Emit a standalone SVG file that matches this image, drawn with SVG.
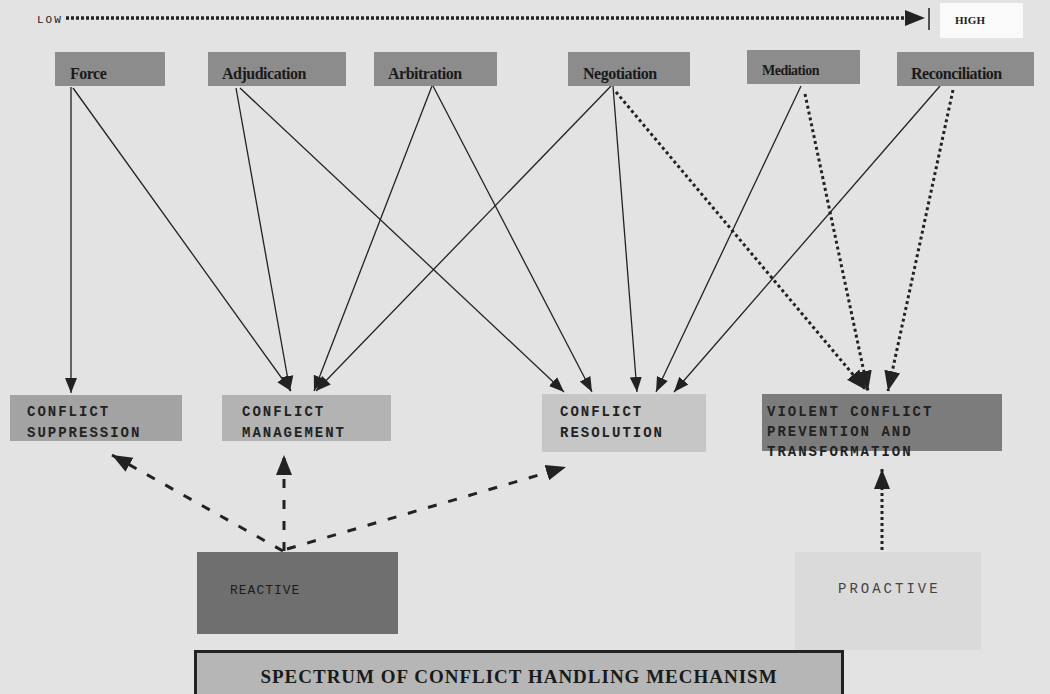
<svg xmlns="http://www.w3.org/2000/svg" width="1050" height="694" viewBox="0 0 1050 694">
<style>
.top{fill:#8c8c8c;}
.tl{font-family:"Liberation Serif",serif;font-weight:bold;font-size:16px;fill:#1a1a1a;letter-spacing:-0.5px;}
.bl{font-family:"Liberation Mono",monospace;font-weight:bold;font-size:14px;fill:#222;letter-spacing:2px;}
.solid{stroke:#222;stroke-width:1.3;fill:none;marker-end:url(#ah);}
.dot{stroke:#222;stroke-width:3;stroke-dasharray:3,3;fill:none;marker-end:url(#ahb);}
.dash{stroke:#222;stroke-width:3;stroke-dasharray:9,12;fill:none;marker-end:url(#ahb);}
</style>
<defs>
<marker id="ah" markerUnits="userSpaceOnUse" markerWidth="16" markerHeight="16" viewBox="0 0 16 16" refX="15" refY="8" orient="auto"><path d="M0,2 L15,8 L0,14 Z" fill="#222"/></marker>
<marker id="ahb" markerUnits="userSpaceOnUse" markerWidth="22" markerHeight="22" viewBox="0 0 22 22" refX="20" refY="11" orient="auto"><path d="M0,3 L20,11 L0,19 Z" fill="#222"/></marker>
</defs>
<rect width="1050" height="694" fill="#e3e3e3"/>
<g id="scale">
<text x="37" y="23" font-family="Liberation Mono,monospace" font-size="11" fill="#222" letter-spacing="2">LOW</text>
<line x1="66" y1="18" x2="906" y2="18" stroke="#222" stroke-width="3.5" stroke-dasharray="3,2"/>
<path d="M905,10 L925,18 L905,26 Z" fill="#222"/>
<line x1="929" y1="8" x2="929" y2="30" stroke="#222" stroke-width="1.5"/>
<rect x="940" y="3" width="83" height="35" fill="#fafafa"/>
<text x="955" y="24" font-family="Liberation Serif,serif" font-weight="bold" font-size="11" fill="#222">HIGH</text>
</g>
<g id="connectors">
<line class="solid" x1="71" y1="87" x2="71" y2="393"/>
<line class="solid" x1="73" y1="88" x2="291" y2="391"/>
<line class="solid" x1="236" y1="88" x2="290" y2="391"/>
<line class="solid" x1="240" y1="88" x2="564" y2="392"/>
<line class="solid" x1="432" y1="86" x2="314" y2="391"/>
<line class="solid" x1="433" y1="86" x2="592" y2="392"/>
<line class="solid" x1="611" y1="86" x2="316" y2="391"/>
<line class="solid" x1="613" y1="86" x2="637" y2="392"/>
<line class="solid" x1="801" y1="86" x2="656" y2="392"/>
<line class="solid" x1="940" y1="86" x2="674" y2="392"/>
<line class="dot" x1="616" y1="92" x2="866" y2="390"/>
<line class="dot" x1="805" y1="94" x2="868" y2="391"/>
<line class="dot" x1="953" y1="90" x2="888" y2="391"/>
<line class="dash" x1="283" y1="551" x2="112" y2="455"/>
<line class="dash" x1="284" y1="551" x2="284" y2="455"/>
<line class="dash" x1="287" y1="549" x2="566" y2="467"/>
<line class="dot" x1="882" y1="550" x2="882" y2="469"/>
</g>
<g id="force"><rect class="top" x="55" y="52" width="110" height="34"/><text class="tl" x="70" y="79">Force</text></g>
<g id="adjudication"><rect class="top" x="208" y="52" width="138" height="34"/><text class="tl" x="222" y="79">Adjudication</text></g>
<g id="arbitration"><rect class="top" x="374" y="52" width="123" height="34"/><text class="tl" x="388" y="79">Arbitration</text></g>
<g id="negotiation"><rect class="top" x="568" y="52" width="122" height="34"/><text class="tl" x="583" y="79">Negotiation</text></g>
<g id="mediation"><rect class="top" x="747" y="50" width="113" height="34"/><text class="tl" x="762" y="75" style="font-size:14px">Mediation</text></g>
<g id="reconciliation"><rect class="top" x="897" y="52" width="137" height="34"/><text class="tl" x="911" y="79">Reconciliation</text></g>
<g id="suppression"><rect x="10" y="395" width="172" height="46" fill="#a3a3a3"/><text class="bl" x="27" y="416">CONFLICT</text><text class="bl" x="27" y="437">SUPPRESSION</text></g>
<g id="management"><rect x="222" y="395" width="169" height="46" fill="#b3b3b3"/><text class="bl" x="242" y="416">CONFLICT</text><text class="bl" x="242" y="437">MANAGEMENT</text></g>
<g id="resolution"><rect x="542" y="394" width="164" height="58" fill="#c6c6c6"/><text class="bl" x="560" y="416">CONFLICT</text><text class="bl" x="560" y="437">RESOLUTION</text></g>
<g id="prevention"><rect x="762" y="394" width="240" height="57" fill="#7c7c7c"/><text class="bl" x="767" y="416">VIOLENT CONFLICT</text><text class="bl" x="767" y="436">PREVENTION AND</text><text class="bl" x="767" y="456">TRANSFORMATION</text></g>
<g id="reactive"><rect x="197" y="552" width="201" height="82" fill="#6f6f6f"/><text class="bl" x="230" y="594" style="font-weight:normal;font-size:13px;letter-spacing:1px;fill:#1c1c1c">REACTIVE</text></g>
<g id="proactive"><rect x="795" y="552" width="186" height="98" fill="#dadada"/><text class="bl" x="838" y="593" style="font-weight:normal;letter-spacing:3px;fill:#444">PROACTIVE</text></g>
<g id="title"><rect x="195.5" y="651.5" width="647" height="44" fill="#b6b6b6" stroke="#222" stroke-width="3"/><text x="519" y="683" text-anchor="middle" font-family="Liberation Serif,serif" font-weight="bold" font-size="19" fill="#1a1a1a" letter-spacing="1">SPECTRUM OF CONFLICT HANDLING MECHANISM</text></g>
</svg>
